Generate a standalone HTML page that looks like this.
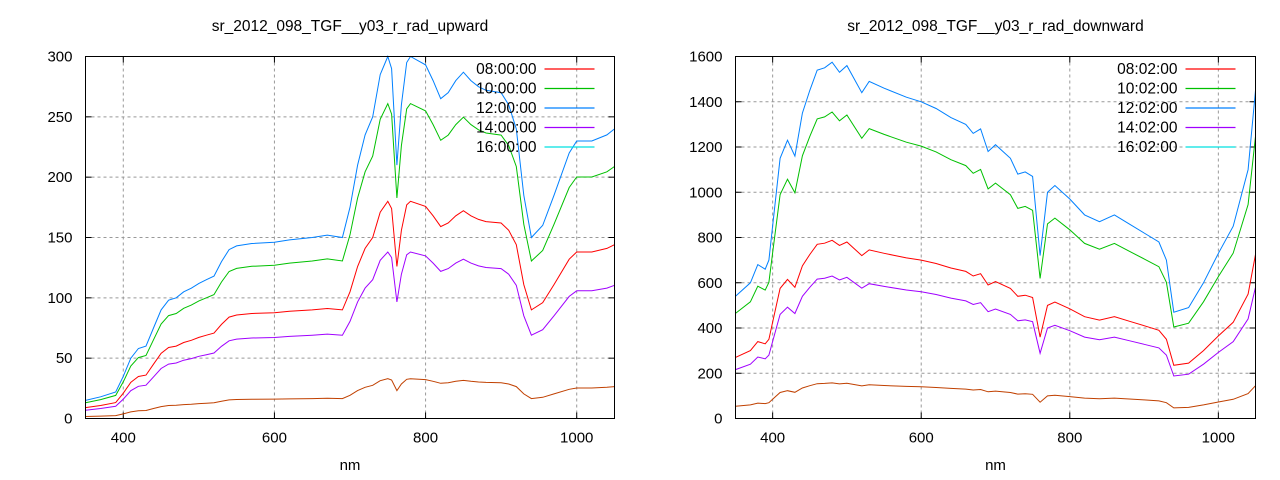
<!DOCTYPE html>
<html><head><meta charset="utf-8"><style>
body{margin:0;background:#fff;}
svg{display:block;font-family:"Liberation Sans",sans-serif;font-size:14px;}
</style></head><body>
<svg id="s" width="1280" height="480" xmlns="http://www.w3.org/2000/svg"></svg>
<script>
const up=[[350,15],[370,18],[390,22],[400,35],[410,50],[420,58],[430,60],[440,75],[450,90],[460,98],[470,100],[480,105],[490,108],[500,112],[510,115],[520,118],[530,130],[540,140],[550,143],[570,145],[600,146],[620,148],[650,150],[670,152],[690,150],[700,175],[710,210],[720,235],[730,250],[740,285],[750,300],[755,290],[762,210],[768,260],[775,295],[780,300],[800,293],[810,280],[820,265],[830,270],[840,280],[850,287],[860,280],[870,275],[880,272],[900,270],[910,260],[920,240],[930,185],[940,150],[955,160],[970,185],[990,220],[1000,230],[1020,230],[1040,235],[1050,240]];
const dn=[[350,540],[370,600],[380,680],[390,660],[395,700],[400,850],[410,1150],[420,1230],[430,1160],[440,1350],[450,1450],[460,1540],[470,1550],[480,1575],[490,1530],[500,1560],[520,1440],[530,1490],[550,1460],[580,1420],[600,1400],[620,1370],[640,1330],[660,1300],[670,1260],[680,1280],[690,1180],[700,1210],[720,1150],[730,1080],[740,1090],[750,1070],[760,720],[770,1000],[780,1030],[800,970],[820,900],[840,870],[860,900],[880,860],[900,820],[920,780],[930,700],[940,470],[960,490],[980,600],[1000,730],[1020,850],[1040,1100],[1050,1450]];
let h='';
function plot(x0,x1,y0,y1,ymax,ystep,data,ratios,title,labels){
 const X=v=>x0+(v-350)/700*(x1-x0), Y=v=>y1-v/ymax*(y1-y0);
 h+=`<text x="${(x0+x1)/2}" y="31" text-anchor="middle" font-size="15.5">${title}</text>`;
 for(let v=400;v<=1000;v+=200){const x=X(v);h+=`<line x1="${x}" y1="${y0}" x2="${x}" y2="${y1}" stroke="#999" stroke-dasharray="3,3"/><line x1="${x}" y1="${y1}" x2="${x}" y2="${y1-6}" stroke="#000"/><line x1="${x}" y1="${y0}" x2="${x}" y2="${y0+6}" stroke="#000"/><text x="${x}" y="${y1+24}" text-anchor="middle" font-size="15">${v}</text>`;}
 for(let v=0;v<=ymax;v+=ystep){const y=Y(v);if(v>0&&v<ymax)h+=`<line x1="${x0}" y1="${y}" x2="${x1}" y2="${y}" stroke="#999" stroke-dasharray="3,3"/>`;h+=`<line x1="${x0}" y1="${y}" x2="${x0+6}" y2="${y}" stroke="#000"/><line x1="${x1}" y1="${y}" x2="${x1-6}" y2="${y}" stroke="#000"/><text x="${x0-13}" y="${y+5}" text-anchor="end" font-size="15">${v}</text>`;}
 h+=`<text x="${(x0+x1)/2}" y="470" text-anchor="middle" font-size="15">nm</text>`;
 const cols=['#c04000','#a000ff','#ff0000','#00c000','#0080ff'];
 const rs=[ratios[4],ratios[3],ratios[2],ratios[1],1];
 rs.forEach((r,i)=>{h+=`<polyline fill="none" stroke="${cols[i]}" stroke-width="1" points="${data.map(p=>X(p[0]).toFixed(1)+','+Y(p[1]*r).toFixed(1)).join(' ')}"/>`;});
 const lc=['#ff0000','#00c000','#0080ff','#a000ff','#00e0e0'];
 labels.forEach((l,i)=>{const y=69+i*19.5;h+=`<text x="${x1-78}" y="${y+5}" text-anchor="end" font-size="15.5">${l}</text><line x1="${x1-70}" y1="${y}" x2="${x1-20}" y2="${y}" stroke="${lc[i]}" stroke-width="1.2"/>`;});
 h+=`<rect x="${x0}" y="${y0}" width="${x1-x0}" height="${y1-y0}" fill="none" stroke="#000"/>`;
}
plot(85.5,614.5,56.5,418.5,300,50,up,[1,.87,.6,.46,.11],'sr_2012_098_TGF__y03_r_rad_upward',['08:00:00','10:00:00','12:00:00','14:00:00','16:00:00']);
plot(735.5,1255.5,56.5,418.5,1600,200,dn,[1,.86,.5,.4,.1],'sr_2012_098_TGF__y03_r_rad_downward',['08:02:00','10:02:00','12:02:00','14:02:00','16:02:00']);
document.getElementById('s').innerHTML=h;
</script>
</body></html>
